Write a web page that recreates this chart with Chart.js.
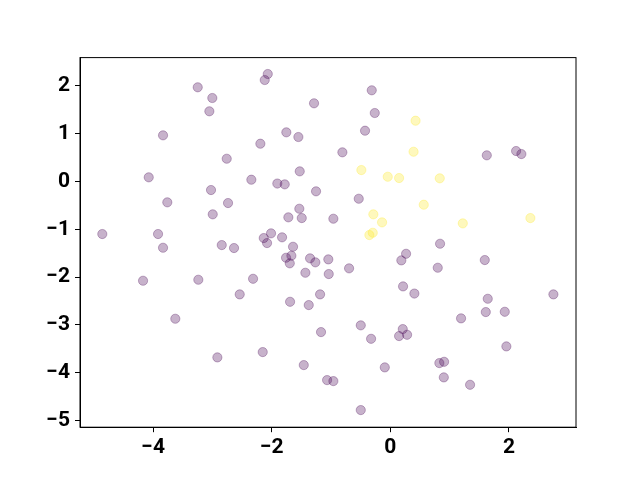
<!DOCTYPE html>
<html lang="en">
  <head>
    <meta charset="utf-8" />
    <title>Scatter</title>
    <style>
      body { margin: 0; background: #fff; }
    </style>
  </head>
  <body>
    <canvas id="scatterChart" width="640" height="480"></canvas>
    <script src="https://cdn.jsdelivr.net/npm/chart.js@4.4.1/dist/chart.umd.min.js"></script>
    <script>
      // class 0 (dark purple) points
      const purpleX = [
        -3.248, -3.002, -3.052, -3.833, -2.759, -4.074, -2.344, -2.067, -2.118, -0.314,
        -1.287, -0.263, -1.754, -1.551, -0.427, -2.192, -0.809, -1.528, -1.906, -1.781,
        1.626, 2.120, 2.209, -3.024, -3.761, -2.737, -2.995, -4.857, -3.917, -3.833,
        -2.843, -2.636, -4.170, -3.238, -2.540, -2.315, -1.253, -0.533, -1.535, -1.720,
        -1.494, -0.961, -2.012, -2.135, -2.079, -1.826, -1.641, -1.759, -1.669, -1.696,
        -1.354, -1.265, -1.046, -1.433, -1.039, -0.696, 0.265, 0.185, 0.214, -1.185,
        -1.691, 0.405, -1.376, 0.838, 0.799, 1.592, 1.642, 2.749, -3.626, -2.917,
        -0.499, -1.169, -0.325, 0.209, 0.147, 0.282, -2.152, -1.460, -0.094, -1.067,
        -0.961, -0.499, 1.192, 1.609, 1.929, 1.956, 0.826, 0.906, 0.901, 1.344
      ];
      const purpleY = [
        1.969, 1.745, 1.467, 0.964, 0.475, 0.086, 0.036, 2.247, 2.121, 1.906,
        1.634, 1.431, 1.027, 0.929, 1.061, 0.789, 0.609, 0.211, -0.044, -0.061,
        0.546, 0.636, 0.573, -0.180, -0.437, -0.452, -0.688, -1.100, -1.100, -1.387,
        -1.331, -1.393, -2.077, -2.056, -2.362, -2.036, -0.207, -0.362, -0.571, -0.751,
        -0.766, -0.780, -1.086, -1.184, -1.289, -1.169, -1.366, -1.596, -1.554, -1.713,
        -1.609, -1.692, -1.630, -1.910, -1.937, -1.818, -1.513, -1.651, -2.195, -2.362,
        -2.517, -2.345, -2.586, -1.303, -1.805, -1.644, -2.454, -2.362, -2.872, -3.680,
        -3.010, -3.151, -3.291, -3.088, -3.234, -3.207, -3.569, -3.841, -3.889, -4.155,
        -4.176, -4.782, -2.864, -2.732, -2.726, -3.450, -3.799, -3.772, -4.098, -4.253
      ];

      // class 1 (yellow) points
      const yellowX = [0.425, 0.391, -0.489, -0.044, 0.147, 0.833, -0.287, -0.140, -0.297, -0.354, 0.563, 1.221, 2.361];
      const yellowY = [1.270, 0.621, 0.238, 0.098, 0.071, 0.065, -0.688, -0.856, -1.073, -1.121, -0.487, -0.877, -0.766];

      const xTicks = [-4, -2, 0, 2];
      const yTicks = [-5, -4, -3, -2, -1, 0, 1, 2];
      const xLimits = [-5.233, 3.13];
      const yLimits = [-5.14, 2.59];

      const toPoints = (xs, ys) => xs.map((x, i) => ({ x: x, y: ys[i] }));
      const fmt = (v) => String(v).replace('-', '\u2212');
      const tickFont = { family: 'Roboto', size: 21, weight: 'bold' };

      // draw the full box around the plot like matplotlib spines
      const frame = {
        id: 'frame',
        afterDatasetsDraw(chart) {
          const { ctx, chartArea } = chart;
          ctx.save();
          ctx.strokeStyle = '#000';
          ctx.lineWidth = 1;
          ctx.strokeRect(chartArea.left, chartArea.top, chartArea.right - chartArea.left, chartArea.bottom - chartArea.top);
          ctx.restore();
        },
      };

      new Chart(document.getElementById('scatterChart'), {
        type: 'scatter',
        data: {
          datasets: [
            {
              data: toPoints(purpleX, purpleY),
              backgroundColor: 'rgba(68,1,84,0.3)',
              borderColor: 'rgba(68,1,84,0.3)',
              borderWidth: 1,
              pointRadius: 4.6,
              pointHoverRadius: 4.6,
            },
            {
              data: toPoints(yellowX, yellowY),
              backgroundColor: 'rgba(253,231,37,0.3)',
              borderColor: 'rgba(253,231,37,0.3)',
              borderWidth: 1,
              pointRadius: 4.6,
              pointHoverRadius: 4.6,
            },
          ],
        },
        options: {
          responsive: false,
          animation: false,
          layout: { padding: { left: 0, top: 57.6, right: 64, bottom: 0 } },
          plugins: { legend: { display: false }, tooltip: { enabled: false } },
          scales: {
            x: {
              type: 'linear',
              min: xLimits[0],
              max: xLimits[1],
              afterFit: (scale) => { scale.height = 52.8; },
              afterBuildTicks: (scale) => { scale.ticks = xTicks.map((v) => ({ value: v })); },
              grid: { display: true, drawOnChartArea: false, drawTicks: true, tickLength: 5, color: '#000', tickWidth: 1 },
              border: { display: true, color: '#000', width: 1 },
              ticks: { color: '#000', font: tickFont, padding: 3, maxRotation: 0, callback: (v) => fmt(v) },
            },
            y: {
              type: 'linear',
              min: yLimits[0],
              max: yLimits[1],
              afterFit: (scale) => { scale.width = 80; },
              afterBuildTicks: (scale) => { scale.ticks = yTicks.map((v) => ({ value: v })); },
              grid: { display: true, drawOnChartArea: false, drawTicks: true, tickLength: 5, color: '#000', tickWidth: 1 },
              border: { display: true, color: '#000', width: 1 },
              ticks: { color: '#000', font: tickFont, padding: 5, callback: (v) => fmt(v) },
            },
          },
        },
        plugins: [frame],
      });
    </script>
  </body>
</html>
